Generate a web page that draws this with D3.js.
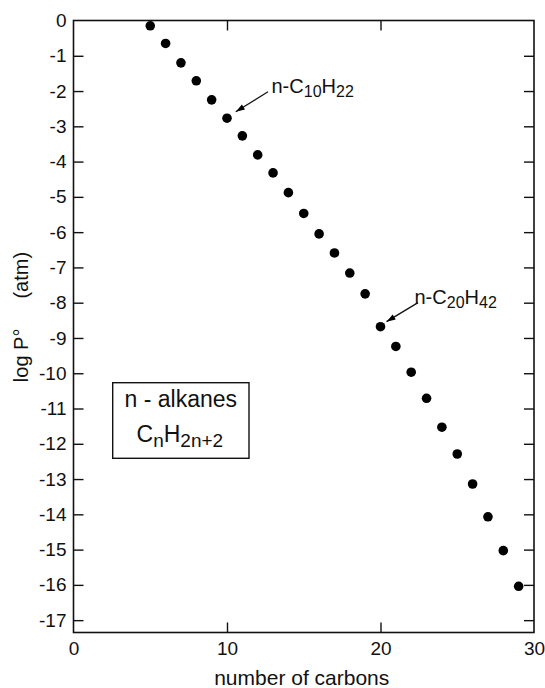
<!DOCTYPE html>
<html>
<head>
<meta charset="utf-8">
<script src="https://cdn.jsdelivr.net/npm/d3@7/dist/d3.min.js"></script>
<style>
  html, body { margin: 0; padding: 0; background: #fff; }
  svg { display: block; }
  text { font-family: "Liberation Sans", Arial, Helvetica, sans-serif; fill: #111; }
</style>
</head>
<body>
<svg id="chart" width="545" height="688"></svg>
<script>
// ---- data ----
const carbons = [5, 6, 7, 8, 9, 10, 11, 12, 13, 14, 15, 16, 17, 18, 19, 20, 21, 22, 23, 24, 25, 26, 27, 28, 29];
const logP = [-0.15, -0.65, -1.20, -1.71, -2.25, -2.77, -3.27, -3.81, -4.32, -4.88, -5.47, -6.05, -6.59, -7.16, -7.75,
              -8.68, -9.24, -9.97, -10.71, -11.53, -12.29, -13.14, -14.07, -15.03, -16.04];
const xTicks = [0, 10, 20, 30];
const yTicks = [0, -1, -2, -3, -4, -5, -6, -7, -8, -9, -10, -11, -12, -13, -14, -15, -16, -17];
const annotCarbons = [10, 20];
const annotSub = [["10", "22"], ["20", "42"]];
const xLabel = "number of carbons";
const legendLine1 = "n - alkanes";

// ---- layout ----
const svg = d3.select("#chart");
const mLeft = 73.5, mRight = 534, mTop = 20.5, mBottom = 632.5;
const x = d3.scaleLinear().domain([0, 30]).range([mLeft, mRight]);
const y = d3.scaleLinear().domain([-17.35, 0]).range([mBottom, mTop]);
const tickLen = 10;
const stroke = "#111";
const FONT = '"Liberation Sans", Arial, Helvetica, sans-serif';

// frame
svg.append("rect")
  .attr("x", mLeft).attr("y", mTop)
  .attr("width", mRight - mLeft).attr("height", mBottom - mTop)
  .attr("fill", "none").attr("stroke", stroke).attr("stroke-width", 1.6);

// left axis with inward ticks
const yAxisL = d3.axisLeft(y).tickValues(yTicks).tickSizeInner(-tickLen).tickSizeOuter(0).tickPadding(7)
  .tickFormat(d => d === 0 ? "0" : "-" + Math.abs(d));
const gL = svg.append("g").attr("transform", `translate(${mLeft},0)`).call(yAxisL);
gL.select(".domain").remove();
gL.selectAll(".tick line").attr("stroke", stroke).attr("stroke-width", 1.4)
  .attr("display", d => d === 0 ? "none" : null);
gL.selectAll(".tick text").attr("font-size", 19).attr("fill", "#111").style("font-family", FONT);

// right axis ticks (inward, no labels)
const yAxisR = d3.axisRight(y).tickValues(yTicks.filter(d => d !== 0)).tickSizeInner(-tickLen).tickSizeOuter(0).tickFormat("");
const gR = svg.append("g").attr("transform", `translate(${mRight},0)`).call(yAxisR);
gR.select(".domain").remove();
gR.selectAll(".tick line").attr("stroke", stroke).attr("stroke-width", 1.4);

// bottom axis
const xAxisB = d3.axisBottom(x).tickValues(xTicks).tickSizeInner(-tickLen).tickSizeOuter(0).tickPadding(9);
const gB = svg.append("g").attr("transform", `translate(0,${mBottom})`).call(xAxisB);
gB.select(".domain").remove();
gB.selectAll(".tick line").attr("stroke", stroke).attr("stroke-width", 1.4)
  .attr("display", d => (d === 0 || d === 30) ? "none" : null);
gB.selectAll(".tick text").attr("font-size", 19).attr("fill", "#111").style("font-family", FONT);

// top axis ticks
const xAxisT = d3.axisTop(x).tickValues(xTicks.filter(d => d !== 0 && d !== 30)).tickSizeInner(-tickLen).tickSizeOuter(0).tickFormat("");
const gT = svg.append("g").attr("transform", `translate(0,${mTop})`).call(xAxisT);
gT.select(".domain").remove();
gT.selectAll(".tick line").attr("stroke", stroke).attr("stroke-width", 1.4);

// points
svg.append("g").selectAll("circle")
  .data(carbons.map((c, i) => ({ c, v: logP[i] })))
  .join("circle")
  .attr("cx", d => x(d.c)).attr("cy", d => y(d.v))
  .attr("r", 4.8).attr("fill", "#000");

// axis labels
svg.append("text")
  .attr("x", (mLeft + mRight) / 2 - 2).attr("y", 685)
  .attr("text-anchor", "middle").attr("font-size", 21)
  .text(xLabel);

const yl = svg.append("text")
  .attr("transform", "translate(28,317) rotate(-90)")
  .attr("text-anchor", "middle").attr("font-size", 20);
yl.append("tspan").text("log P\u00b0");
yl.append("tspan").attr("dx", 30).text("(atm)");

// annotations
const annotOffsets = [
  { sx: 41, sy: -26.5, ex: 8.8, ey: -6.5, tx: 44.5, ty: -25 },
  { sx: 37.5, sy: -24, ex: 6, ey: -5, tx: 34, ty: -22.6 }
];
annotCarbons.forEach((c, i) => {
  const idx = carbons.indexOf(c);
  const px = x(c), py = y(logP[idx]);
  const o = annotOffsets[i];
  const x1 = px + o.sx, y1 = py + o.sy, x2 = px + o.ex, y2 = py + o.ey;
  svg.append("line").attr("x1", x1).attr("y1", y1).attr("x2", x2).attr("y2", y2)
    .attr("stroke", stroke).attr("stroke-width", 1.3);
  const ang = Math.atan2(y2 - y1, x2 - x1);
  const L = 9, W = 3;
  const hx = x2 - L * Math.cos(ang), hy = y2 - L * Math.sin(ang);
  const nx = -Math.sin(ang) * W, ny = Math.cos(ang) * W;
  svg.append("path")
    .attr("d", `M${x2},${y2}L${hx + nx},${hy + ny}L${hx - nx},${hy - ny}Z`)
    .attr("fill", "#000");
  const t = svg.append("text").attr("x", px + o.tx).attr("y", py + o.ty).attr("font-size", 20);
  t.append("tspan").text("n-C");
  t.append("tspan").attr("font-size", 16).attr("dy", 4).text(annotSub[i][0]);
  t.append("tspan").attr("dy", -4).text("H");
  t.append("tspan").attr("font-size", 16).attr("dy", 4).text(annotSub[i][1]);
});

// legend box
const bx0 = 112.7, by0 = 382.7, bw = 136.3, bh = 75.6;
svg.append("rect").attr("x", bx0).attr("y", by0).attr("width", bw).attr("height", bh)
  .attr("fill", "#fff").attr("stroke", stroke).attr("stroke-width", 1.4);
svg.append("text").attr("x", bx0 + bw / 2).attr("y", by0 + 24)
  .attr("text-anchor", "middle").attr("font-size", 23).text(legendLine1);
const l2 = svg.append("text").attr("x", bx0 + bw / 2 - 1).attr("y", by0 + 59)
  .attr("text-anchor", "middle").attr("font-size", 23);
l2.append("tspan").text("C");
l2.append("tspan").attr("font-size", 19).attr("dy", 5).text("n");
l2.append("tspan").attr("dy", -5).text("H");
l2.append("tspan").attr("font-size", 19).attr("dy", 5).text("2n+2");
</script>
</body>
</html>
